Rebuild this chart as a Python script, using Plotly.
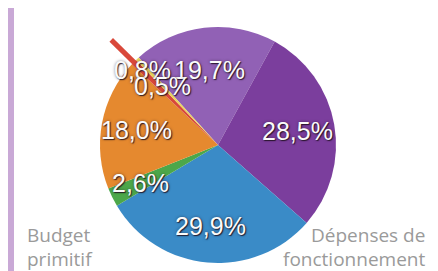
import math
import plotly.graph_objects as go

# ---- data ----
slice_names = ["Part A", "Part B", "Part C", "Part D", "Part E", "Part F", "Part G"]
slice_values = [19.7, 28.5, 29.9, 2.6, 18.0, 0.8, 0.5]
slice_colors = ["#9161b5", "#7b3e9d", "#3a8bc7", "#4ca74a", "#e5892f", "#d9483a", "#e9d55e"]
left_caption = ["Budget", "primitif"]
right_caption = ["Dépenses de", "fonctionnement"]

# ---- layout geometry (pixels) ----
W, H = 438, 271
CX, CY, R = 210, 137, 118
ROTATION = -42.2
label_radius = [0.64, 0.68, 0.69, 0.73, 0.70, 0.90, 0.69]

fig = go.Figure()
fig.add_trace(go.Pie(
    labels=slice_names,
    values=slice_values,
    sort=False,
    direction="clockwise",
    rotation=ROTATION,
    marker=dict(colors=slice_colors, line=dict(width=0)),
    textinfo="none",
    hoverinfo="label+percent",
    showlegend=False,
    domain=dict(x=[(CX - R) / W, (CX + R) / W],
                y=[(H - CY - R) / H, (H - CY + R) / H]),
))

def to_paper(angle_deg, r):
    a = math.radians(angle_deg)
    px = CX + r * math.sin(a)
    py = CY - r * math.cos(a)
    return px / W, 1 - py / H

total = sum(slice_values)
start = ROTATION
annotations = []
shapes = []
for i, v in enumerate(slice_values):
    span = v / total * 360
    mid = start + span / 2
    x, y = to_paper(mid, label_radius[i] * R)
    txt = f"{v:.1f}".replace(".", ",") + "%"
    annotations.append(dict(
        x=x, y=y, xref="paper", yref="paper", text=txt, showarrow=False,
        xanchor="center", yanchor="middle",
        font=dict(family="Liberation Sans, Arial, sans-serif", size=25, color="#fbfbfb",
                  shadow="1px 1px 1px rgba(30,15,30,0.85), 0px 0px 3px rgba(30,15,30,0.5)"),
    ))
    if i == 5:
        x0, y0 = to_paper(mid, 0.85 * R)
        x1, y1 = to_paper(mid, 1.27 * R)
        shapes.append(dict(type="line", xref="paper", yref="paper",
                           x0=x0, y0=y0, x1=x1, y1=y1, layer="below",
                           line=dict(color=slice_colors[5], width=5)))
    start += span

cap_font = dict(family="Open Sans, sans-serif", size=19, color="#9a9a9a")
cap_rows = [227, 251]
for j, (lt, rt) in enumerate(zip(left_caption, right_caption)):
    annotations.append(dict(x=17 / W, y=1 - cap_rows[j] / H, xref="paper", yref="paper",
                            text=lt, showarrow=False, xanchor="left", yanchor="middle",
                            font=cap_font))
    annotations.append(dict(x=419 / W, y=1 - cap_rows[j] / H, xref="paper", yref="paper",
                            text=rt, showarrow=False, xanchor="right", yanchor="middle",
                            font=cap_font))

border = "#c9a9d6"
shapes.append(dict(type="rect", xref="paper", yref="paper", x0=0, x1=6 / W, y0=0, y1=1,
                   fillcolor=border, line=dict(width=0), layer="below"))
shapes.append(dict(type="rect", xref="paper", yref="paper", x0=429 / W, x1=1, y0=0, y1=1,
                   fillcolor=border, line=dict(width=0), layer="below"))

fig.update_layout(
    width=W, height=H,
    margin=dict(l=0, r=0, t=0, b=0),
    paper_bgcolor="white",
    plot_bgcolor="white",
    annotations=annotations,
    shapes=shapes,
)

fig.write_html("out.html", config={"displayModeBar": False})
